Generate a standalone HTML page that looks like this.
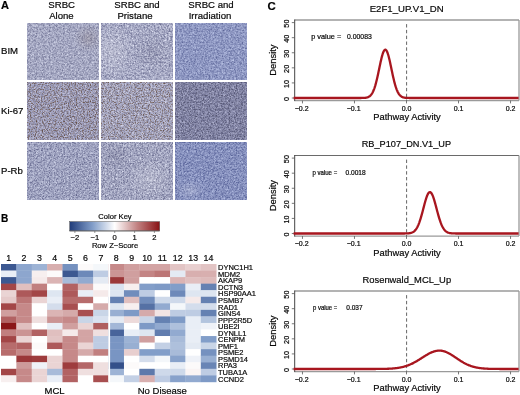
<!DOCTYPE html>
<html><head><meta charset="utf-8"><style>
html,body{margin:0;padding:0;background:#fff;}
svg{display:block;font-family:"Liberation Sans", sans-serif;will-change:transform;filter:blur(0.35px);}
svg text{stroke:#080808;stroke-width:0.2px;}
</style></head><body>
<svg width="520" height="395" viewBox="0 0 520 395">
<defs>
<linearGradient id="ck" x1="0" x2="1" y1="0" y2="0">
<stop offset="0.000" stop-color="#203c7a"/>
<stop offset="0.050" stop-color="#334f8a"/>
<stop offset="0.100" stop-color="#466299"/>
<stop offset="0.150" stop-color="#5a76a9"/>
<stop offset="0.200" stop-color="#6d89b8"/>
<stop offset="0.250" stop-color="#809cc8"/>
<stop offset="0.300" stop-color="#99b0d3"/>
<stop offset="0.350" stop-color="#b3c4de"/>
<stop offset="0.400" stop-color="#ccd7e9"/>
<stop offset="0.450" stop-color="#e6ebf4"/>
<stop offset="0.500" stop-color="#ffffff"/>
<stop offset="0.550" stop-color="#f3e6e6"/>
<stop offset="0.600" stop-color="#e7cdcd"/>
<stop offset="0.650" stop-color="#dab4b4"/>
<stop offset="0.700" stop-color="#ce9b9b"/>
<stop offset="0.750" stop-color="#c28282"/>
<stop offset="0.800" stop-color="#b66c6c"/>
<stop offset="0.850" stop-color="#ab5556"/>
<stop offset="0.900" stop-color="#9f3f40"/>
<stop offset="0.950" stop-color="#94282a"/>
<stop offset="1.000" stop-color="#881214"/>
</linearGradient>
</defs>
<text x="0.9" y="9.2" font-size="11" font-weight="bold" fill="#000">A</text>
<text x="61.7" y="7.9" font-size="9.6" text-anchor="middle" fill="#080808">SRBC</text>
<text x="61.4" y="18.9" font-size="9.6" text-anchor="middle" fill="#080808">Alone</text>
<text x="137.0" y="7.9" font-size="9.6" text-anchor="middle" fill="#080808">SRBC and</text>
<text x="135.0" y="18.9" font-size="9.6" text-anchor="middle" fill="#080808">Pristane</text>
<text x="211.0" y="7.9" font-size="9.6" text-anchor="middle" fill="#080808">SRBC and</text>
<text x="210.0" y="18.9" font-size="9.6" text-anchor="middle" fill="#080808">Irradiation</text>
<text x="1" y="54.2" font-size="9.6" fill="#080808">BIM</text>
<text x="1" y="113.8" font-size="9.6" fill="#080808">Ki-67</text>
<text x="1" y="173.5" font-size="9.6" fill="#080808">P-Rb</text>
<filter id="tx1" x="0" y="0" width="100%" height="100%" color-interpolation-filters="sRGB"><feTurbulence type="fractalNoise" baseFrequency="0.55" numOctaves="3" seed="18" result="n1"/><feGaussianBlur in="n1" stdDeviation="0.4" result="n1b"/><feColorMatrix in="n1b" type="matrix" values="0.450 0 0 0 0.438  0.450 0 0 0 0.450  0.380 0 0 0 0.586  0 0 0 0 1" result="bg"/><feTurbulence type="fractalNoise" baseFrequency="0.85" numOctaves="1" seed="9" result="n2"/><feColorMatrix in="n2" type="matrix" values="0 0 0 0 0.361  0 0 0 0 0.369  0 0 0 0 0.502  2.60 0 0 0 -1.391" result="dk"/><feGaussianBlur in="dk" stdDeviation="0.45" result="dkb"/><feMerge><feMergeNode in="bg"/><feMergeNode in="dkb"/></feMerge></filter>
<rect x="27" y="23.0" width="72" height="57.0" fill="#a9acc6" filter="url(#tx1)"/>
<filter id="tx2" x="0" y="0" width="100%" height="100%" color-interpolation-filters="sRGB"><feTurbulence type="fractalNoise" baseFrequency="0.55" numOctaves="3" seed="31" result="n1"/><feGaussianBlur in="n1" stdDeviation="0.4" result="n1b"/><feColorMatrix in="n1b" type="matrix" values="0.600 0 0 0 0.371  0.600 0 0 0 0.382  0.500 0 0 0 0.534  0 0 0 0 1" result="bg"/><feTurbulence type="fractalNoise" baseFrequency="0.85" numOctaves="1" seed="16" result="n2"/><feColorMatrix in="n2" type="matrix" values="0 0 0 0 0.361  0 0 0 0 0.369  0 0 0 0 0.510  2.60 0 0 0 -1.417" result="dk"/><feGaussianBlur in="dk" stdDeviation="0.45" result="dkb"/><feMerge><feMergeNode in="bg"/><feMergeNode in="dkb"/></feMerge></filter>
<rect x="101" y="23.0" width="72" height="57.0" fill="#abaec8" filter="url(#tx2)"/>
<filter id="tx3" x="0" y="0" width="100%" height="100%" color-interpolation-filters="sRGB"><feTurbulence type="fractalNoise" baseFrequency="0.55" numOctaves="3" seed="44" result="n1"/><feGaussianBlur in="n1" stdDeviation="0.4" result="n1b"/><feColorMatrix in="n1b" type="matrix" values="0.420 0 0 0 0.366  0.420 0 0 0 0.402  0.340 0 0 0 0.606  0 0 0 0 1" result="bg"/><feTurbulence type="fractalNoise" baseFrequency="0.85" numOctaves="1" seed="23" result="n2"/><feColorMatrix in="n2" type="matrix" values="0 0 0 0 0.290  0 0 0 0 0.329  0 0 0 0 0.533  2.60 0 0 0 -1.404" result="dk"/><feGaussianBlur in="dk" stdDeviation="0.45" result="dkb"/><feMerge><feMergeNode in="bg"/><feMergeNode in="dkb"/></feMerge></filter>
<rect x="175" y="23.0" width="72" height="57.0" fill="#939cc6" filter="url(#tx3)"/>
<filter id="tx4" x="0" y="0" width="100%" height="100%" color-interpolation-filters="sRGB"><feTurbulence type="fractalNoise" baseFrequency="0.55" numOctaves="3" seed="57" result="n1"/><feGaussianBlur in="n1" stdDeviation="0.4" result="n1b"/><feColorMatrix in="n1b" type="matrix" values="0.450 0 0 0 0.418  0.450 0 0 0 0.422  0.400 0 0 0 0.561  0 0 0 0 1" result="bg"/><feTurbulence type="fractalNoise" baseFrequency="0.85" numOctaves="1" seed="30" result="n2"/><feColorMatrix in="n2" type="matrix" values="0 0 0 0 0.361  0 0 0 0 0.259  0 0 0 0 0.196  2.80 0 0 0 -1.316" result="dk"/><feGaussianBlur in="dk" stdDeviation="0.45" result="dkb"/><feMerge><feMergeNode in="bg"/><feMergeNode in="dkb"/></feMerge></filter>
<rect x="27" y="82.8" width="72" height="57.2" fill="#a4a5c2" filter="url(#tx4)"/>
<filter id="tx5" x="0" y="0" width="100%" height="100%" color-interpolation-filters="sRGB"><feTurbulence type="fractalNoise" baseFrequency="0.55" numOctaves="3" seed="70" result="n1"/><feGaussianBlur in="n1" stdDeviation="0.4" result="n1b"/><feColorMatrix in="n1b" type="matrix" values="0.500 0 0 0 0.417  0.500 0 0 0 0.421  0.440 0 0 0 0.553  0 0 0 0 1" result="bg"/><feTurbulence type="fractalNoise" baseFrequency="0.85" numOctaves="1" seed="37" result="n2"/><feColorMatrix in="n2" type="matrix" values="0 0 0 0 0.369  0 0 0 0 0.267  0 0 0 0 0.204  2.70 0 0 0 -1.310" result="dk"/><feGaussianBlur in="dk" stdDeviation="0.45" result="dkb"/><feMerge><feMergeNode in="bg"/><feMergeNode in="dkb"/></feMerge></filter>
<rect x="101" y="82.8" width="72" height="57.2" fill="#aaabc5" filter="url(#tx5)"/>
<filter id="tx6" x="0" y="0" width="100%" height="100%" color-interpolation-filters="sRGB"><feTurbulence type="fractalNoise" baseFrequency="0.55" numOctaves="3" seed="83" result="n1"/><feGaussianBlur in="n1" stdDeviation="0.4" result="n1b"/><feColorMatrix in="n1b" type="matrix" values="0.450 0 0 0 0.312  0.450 0 0 0 0.320  0.420 0 0 0 0.461  0 0 0 0 1" result="bg"/><feTurbulence type="fractalNoise" baseFrequency="0.85" numOctaves="1" seed="44" result="n2"/><feColorMatrix in="n2" type="matrix" values="0 0 0 0 0.235  0 0 0 0 0.235  0 0 0 0 0.337  2.40 0 0 0 -1.176" result="dk"/><feGaussianBlur in="dk" stdDeviation="0.45" result="dkb"/><feMerge><feMergeNode in="bg"/><feMergeNode in="dkb"/></feMerge></filter>
<rect x="175" y="82.8" width="72" height="57.2" fill="#898bab" filter="url(#tx6)"/>
<filter id="tx7" x="0" y="0" width="100%" height="100%" color-interpolation-filters="sRGB"><feTurbulence type="fractalNoise" baseFrequency="0.55" numOctaves="3" seed="96" result="n1"/><feGaussianBlur in="n1" stdDeviation="0.4" result="n1b"/><feColorMatrix in="n1b" type="matrix" values="0.450 0 0 0 0.426  0.450 0 0 0 0.442  0.380 0 0 0 0.586  0 0 0 0 1" result="bg"/><feTurbulence type="fractalNoise" baseFrequency="0.85" numOctaves="1" seed="51" result="n2"/><feColorMatrix in="n2" type="matrix" values="0 0 0 0 0.314  0 0 0 0 0.322  0 0 0 0 0.486  2.70 0 0 0 -1.377" result="dk"/><feGaussianBlur in="dk" stdDeviation="0.45" result="dkb"/><feMerge><feMergeNode in="bg"/><feMergeNode in="dkb"/></feMerge></filter>
<rect x="27" y="142.6" width="72" height="57.2" fill="#a6aac6" filter="url(#tx7)"/>
<filter id="tx8" x="0" y="0" width="100%" height="100%" color-interpolation-filters="sRGB"><feTurbulence type="fractalNoise" baseFrequency="0.55" numOctaves="3" seed="109" result="n1"/><feGaussianBlur in="n1" stdDeviation="0.4" result="n1b"/><feColorMatrix in="n1b" type="matrix" values="0.550 0 0 0 0.388  0.550 0 0 0 0.400  0.460 0 0 0 0.546  0 0 0 0 1" result="bg"/><feTurbulence type="fractalNoise" baseFrequency="0.85" numOctaves="1" seed="58" result="n2"/><feColorMatrix in="n2" type="matrix" values="0 0 0 0 0.322  0 0 0 0 0.329  0 0 0 0 0.478  2.70 0 0 0 -1.404" result="dk"/><feGaussianBlur in="dk" stdDeviation="0.45" result="dkb"/><feMerge><feMergeNode in="bg"/><feMergeNode in="dkb"/></feMerge></filter>
<rect x="101" y="142.6" width="72" height="57.2" fill="#a9acc6" filter="url(#tx8)"/>
<filter id="tx9" x="0" y="0" width="100%" height="100%" color-interpolation-filters="sRGB"><feTurbulence type="fractalNoise" baseFrequency="0.55" numOctaves="3" seed="122" result="n1"/><feGaussianBlur in="n1" stdDeviation="0.4" result="n1b"/><feColorMatrix in="n1b" type="matrix" values="0.420 0 0 0 0.339  0.420 0 0 0 0.378  0.340 0 0 0 0.591  0 0 0 0 1" result="bg"/><feTurbulence type="fractalNoise" baseFrequency="0.85" numOctaves="1" seed="65" result="n2"/><feColorMatrix in="n2" type="matrix" values="0 0 0 0 0.259  0 0 0 0 0.306  0 0 0 0 0.533  2.70 0 0 0 -1.404" result="dk"/><feGaussianBlur in="dk" stdDeviation="0.45" result="dkb"/><feMerge><feMergeNode in="bg"/><feMergeNode in="dkb"/></feMerge></filter>
<rect x="175" y="142.6" width="72" height="57.2" fill="#8c96c2" filter="url(#tx9)"/>
<defs><radialGradient id="rgw"><stop offset="0" stop-color="#fff" stop-opacity="0.22"/><stop offset="1" stop-color="#fff" stop-opacity="0"/></radialGradient><radialGradient id="rgd"><stop offset="0" stop-color="#303050" stop-opacity="0.12"/><stop offset="1" stop-color="#303050" stop-opacity="0"/></radialGradient><radialGradient id="rgb"><stop offset="0" stop-color="#6a5040" stop-opacity="0.18"/><stop offset="1" stop-color="#6a5040" stop-opacity="0"/></radialGradient><clipPath id="cpA"><rect x="27" y="23" width="220" height="177"/></clipPath></defs>
<g clip-path="url(#cpA)">
<ellipse cx="113" cy="52" rx="20" ry="28" fill="url(#rgw)"/>
<ellipse cx="152" cy="52" rx="18" ry="18" fill="url(#rgd)"/>
<ellipse cx="88" cy="38" rx="14" ry="14" fill="url(#rgb)"/>
<ellipse cx="150" cy="178" rx="22" ry="20" fill="url(#rgw)"/>
<ellipse cx="116" cy="156" rx="16" ry="14" fill="url(#rgd)"/>
<ellipse cx="190" cy="190" rx="14" ry="10" fill="url(#rgw)"/>
</g>
<text x="0.9" y="222" font-size="11.6" font-weight="bold" textLength="7.3" lengthAdjust="spacingAndGlyphs" fill="#000">B</text>
<text x="115" y="219.2" font-size="7.6" text-anchor="middle" fill="#080808">Color Key</text>
<rect x="69.7" y="221.6" width="90" height="9.3" fill="url(#ck)" stroke="#555" stroke-width="0.5"/>
<line x1="69.7" y1="231" x2="159.7" y2="231" stroke="#555" stroke-width="0.7"/>
<line x1="74.9" y1="231" x2="74.9" y2="233" stroke="#555" stroke-width="0.6"/>
<text x="74.9" y="240.4" font-size="7.6" text-anchor="middle" fill="#080808">−2</text>
<line x1="94.8" y1="231" x2="94.8" y2="233" stroke="#555" stroke-width="0.6"/>
<text x="94.8" y="240.4" font-size="7.6" text-anchor="middle" fill="#080808">−1</text>
<line x1="114.7" y1="231" x2="114.7" y2="233" stroke="#555" stroke-width="0.6"/>
<text x="114.7" y="240.4" font-size="7.6" text-anchor="middle" fill="#080808">0</text>
<line x1="134.6" y1="231" x2="134.6" y2="233" stroke="#555" stroke-width="0.6"/>
<text x="134.6" y="240.4" font-size="7.6" text-anchor="middle" fill="#080808">1</text>
<line x1="154.4" y1="231" x2="154.4" y2="233" stroke="#555" stroke-width="0.6"/>
<text x="154.4" y="240.4" font-size="7.6" text-anchor="middle" fill="#080808">2</text>
<text x="115" y="247.8" font-size="7.6" text-anchor="middle" fill="#080808">Row Z−Score</text>
<text x="8.69" y="261" font-size="8.8" text-anchor="middle" fill="#080808">1</text>
<rect x="1.00" y="264.00" width="15.67" height="6.85" fill="#3c5891"/>
<rect x="1.00" y="270.55" width="15.67" height="6.85" fill="#e9eef6"/>
<rect x="1.00" y="277.10" width="15.67" height="6.85" fill="#3c5891"/>
<rect x="1.00" y="283.65" width="15.67" height="6.85" fill="#a34647"/>
<rect x="1.00" y="290.20" width="15.67" height="6.85" fill="#ead4d4"/>
<rect x="1.00" y="296.75" width="15.67" height="6.85" fill="#e5caca"/>
<rect x="1.00" y="303.30" width="15.67" height="6.85" fill="#a34647"/>
<rect x="1.00" y="309.85" width="15.67" height="6.85" fill="#d09f9f"/>
<rect x="1.00" y="316.40" width="15.67" height="6.85" fill="#b26263"/>
<rect x="1.00" y="322.95" width="15.67" height="6.85" fill="#8a1618"/>
<rect x="1.00" y="329.50" width="15.67" height="6.85" fill="#c17f7f"/>
<rect x="1.00" y="336.05" width="15.67" height="6.85" fill="#a34647"/>
<rect x="1.00" y="342.60" width="15.67" height="6.85" fill="#b76c6c"/>
<rect x="1.00" y="349.15" width="15.67" height="6.85" fill="#b76c6c"/>
<rect x="1.00" y="355.70" width="15.67" height="6.85" fill="#ffffff"/>
<rect x="1.00" y="362.25" width="15.67" height="6.85" fill="#ffffff"/>
<rect x="1.00" y="368.80" width="15.67" height="6.85" fill="#a34647"/>
<rect x="1.00" y="375.35" width="15.67" height="6.85" fill="#f7efef"/>
<text x="24.06" y="261" font-size="8.8" text-anchor="middle" fill="#080808">2</text>
<rect x="16.37" y="264.00" width="15.67" height="6.85" fill="#8da6ce"/>
<rect x="16.37" y="270.55" width="15.67" height="6.85" fill="#8da6ce"/>
<rect x="16.37" y="277.10" width="15.67" height="6.85" fill="#8da6ce"/>
<rect x="16.37" y="283.65" width="15.67" height="6.85" fill="#e0bfbf"/>
<rect x="16.37" y="290.20" width="15.67" height="6.85" fill="#ad595a"/>
<rect x="16.37" y="296.75" width="15.67" height="6.85" fill="#bc7676"/>
<rect x="16.37" y="303.30" width="15.67" height="6.85" fill="#c68989"/>
<rect x="16.37" y="309.85" width="15.67" height="6.85" fill="#c68989"/>
<rect x="16.37" y="316.40" width="15.67" height="6.85" fill="#c68989"/>
<rect x="16.37" y="322.95" width="15.67" height="6.85" fill="#e0bfbf"/>
<rect x="16.37" y="329.50" width="15.67" height="6.85" fill="#cb9494"/>
<rect x="16.37" y="336.05" width="15.67" height="6.85" fill="#ead4d4"/>
<rect x="16.37" y="342.60" width="15.67" height="6.85" fill="#b26263"/>
<rect x="16.37" y="349.15" width="15.67" height="6.85" fill="#c68989"/>
<rect x="16.37" y="355.70" width="15.67" height="6.85" fill="#9b3739"/>
<rect x="16.37" y="362.25" width="15.67" height="6.85" fill="#cd9a9a"/>
<rect x="16.37" y="368.80" width="15.67" height="6.85" fill="#c68989"/>
<rect x="16.37" y="375.35" width="15.67" height="6.85" fill="#c68989"/>
<text x="39.43" y="261" font-size="8.8" text-anchor="middle" fill="#080808">3</text>
<rect x="31.74" y="264.00" width="15.67" height="6.85" fill="#9db3d5"/>
<rect x="31.74" y="270.55" width="15.67" height="6.85" fill="#f7efef"/>
<rect x="31.74" y="277.10" width="15.67" height="6.85" fill="#f5eaea"/>
<rect x="31.74" y="283.65" width="15.67" height="6.85" fill="#c17f7f"/>
<rect x="31.74" y="290.20" width="15.67" height="6.85" fill="#a34647"/>
<rect x="31.74" y="296.75" width="15.67" height="6.85" fill="#ead4d4"/>
<rect x="31.74" y="303.30" width="15.67" height="6.85" fill="#ffffff"/>
<rect x="31.74" y="309.85" width="15.67" height="6.85" fill="#ffffff"/>
<rect x="31.74" y="316.40" width="15.67" height="6.85" fill="#efdfdf"/>
<rect x="31.74" y="322.95" width="15.67" height="6.85" fill="#ffffff"/>
<rect x="31.74" y="329.50" width="15.67" height="6.85" fill="#b26263"/>
<rect x="31.74" y="336.05" width="15.67" height="6.85" fill="#ffffff"/>
<rect x="31.74" y="342.60" width="15.67" height="6.85" fill="#fcfafa"/>
<rect x="31.74" y="349.15" width="15.67" height="6.85" fill="#ffffff"/>
<rect x="31.74" y="355.70" width="15.67" height="6.85" fill="#9e3c3d"/>
<rect x="31.74" y="362.25" width="15.67" height="6.85" fill="#eff2f8"/>
<rect x="31.74" y="368.80" width="15.67" height="6.85" fill="#ead4d4"/>
<rect x="31.74" y="375.35" width="15.67" height="6.85" fill="#ead4d4"/>
<text x="54.80" y="261" font-size="8.8" text-anchor="middle" fill="#080808">4</text>
<rect x="47.11" y="264.00" width="15.67" height="6.85" fill="#d8afaf"/>
<rect x="47.11" y="270.55" width="15.67" height="6.85" fill="#fcfafa"/>
<rect x="47.11" y="277.10" width="15.67" height="6.85" fill="#dbb4b4"/>
<rect x="47.11" y="283.65" width="15.67" height="6.85" fill="#ffffff"/>
<rect x="47.11" y="290.20" width="15.67" height="6.85" fill="#dee6f1"/>
<rect x="47.11" y="296.75" width="15.67" height="6.85" fill="#e9eef6"/>
<rect x="47.11" y="303.30" width="15.67" height="6.85" fill="#d4ddec"/>
<rect x="47.11" y="309.85" width="15.67" height="6.85" fill="#dbb4b4"/>
<rect x="47.11" y="316.40" width="15.67" height="6.85" fill="#cb9494"/>
<rect x="47.11" y="322.95" width="15.67" height="6.85" fill="#e9eef6"/>
<rect x="47.11" y="329.50" width="15.67" height="6.85" fill="#e0bfbf"/>
<rect x="47.11" y="336.05" width="15.67" height="6.85" fill="#e2c4c4"/>
<rect x="47.11" y="342.60" width="15.67" height="6.85" fill="#ad595a"/>
<rect x="47.11" y="349.15" width="15.67" height="6.85" fill="#ffffff"/>
<rect x="47.11" y="355.70" width="15.67" height="6.85" fill="#ead4d4"/>
<rect x="47.11" y="362.25" width="15.67" height="6.85" fill="#ead4d4"/>
<rect x="47.11" y="368.80" width="15.67" height="6.85" fill="#a8bbd9"/>
<rect x="47.11" y="375.35" width="15.67" height="6.85" fill="#e9eef6"/>
<text x="70.17" y="261" font-size="8.8" text-anchor="middle" fill="#080808">5</text>
<rect x="62.49" y="264.00" width="15.67" height="6.85" fill="#7591bf"/>
<rect x="62.49" y="270.55" width="15.67" height="6.85" fill="#3c5891"/>
<rect x="62.49" y="277.10" width="15.67" height="6.85" fill="#a8bbd9"/>
<rect x="62.49" y="283.65" width="15.67" height="6.85" fill="#b26263"/>
<rect x="62.49" y="290.20" width="15.67" height="6.85" fill="#ad595a"/>
<rect x="62.49" y="296.75" width="15.67" height="6.85" fill="#b76c6c"/>
<rect x="62.49" y="303.30" width="15.67" height="6.85" fill="#a84f50"/>
<rect x="62.49" y="309.85" width="15.67" height="6.85" fill="#d5aaaa"/>
<rect x="62.49" y="316.40" width="15.67" height="6.85" fill="#c68989"/>
<rect x="62.49" y="322.95" width="15.67" height="6.85" fill="#d09f9f"/>
<rect x="62.49" y="329.50" width="15.67" height="6.85" fill="#f5eaea"/>
<rect x="62.49" y="336.05" width="15.67" height="6.85" fill="#c68989"/>
<rect x="62.49" y="342.60" width="15.67" height="6.85" fill="#c68989"/>
<rect x="62.49" y="349.15" width="15.67" height="6.85" fill="#c68989"/>
<rect x="62.49" y="355.70" width="15.67" height="6.85" fill="#c68989"/>
<rect x="62.49" y="362.25" width="15.67" height="6.85" fill="#9e3c3d"/>
<rect x="62.49" y="368.80" width="15.67" height="6.85" fill="#b26263"/>
<rect x="62.49" y="375.35" width="15.67" height="6.85" fill="#b26263"/>
<text x="85.54" y="261" font-size="8.8" text-anchor="middle" fill="#080808">6</text>
<rect x="77.86" y="264.00" width="15.67" height="6.85" fill="#fcfafa"/>
<rect x="77.86" y="270.55" width="15.67" height="6.85" fill="#6d89b9"/>
<rect x="77.86" y="277.10" width="15.67" height="6.85" fill="#92aad0"/>
<rect x="77.86" y="283.65" width="15.67" height="6.85" fill="#dbb4b4"/>
<rect x="77.86" y="290.20" width="15.67" height="6.85" fill="#e9eef6"/>
<rect x="77.86" y="296.75" width="15.67" height="6.85" fill="#b76c6c"/>
<rect x="77.86" y="303.30" width="15.67" height="6.85" fill="#ffffff"/>
<rect x="77.86" y="309.85" width="15.67" height="6.85" fill="#a84f50"/>
<rect x="77.86" y="316.40" width="15.67" height="6.85" fill="#c9d5e7"/>
<rect x="77.86" y="322.95" width="15.67" height="6.85" fill="#ead4d4"/>
<rect x="77.86" y="329.50" width="15.67" height="6.85" fill="#d3a4a4"/>
<rect x="77.86" y="336.05" width="15.67" height="6.85" fill="#d3a4a4"/>
<rect x="77.86" y="342.60" width="15.67" height="6.85" fill="#ead4d4"/>
<rect x="77.86" y="349.15" width="15.67" height="6.85" fill="#d5aaaa"/>
<rect x="77.86" y="355.70" width="15.67" height="6.85" fill="#ffffff"/>
<rect x="77.86" y="362.25" width="15.67" height="6.85" fill="#b46768"/>
<rect x="77.86" y="368.80" width="15.67" height="6.85" fill="#efdfdf"/>
<rect x="77.86" y="375.35" width="15.67" height="6.85" fill="#ffffff"/>
<text x="100.91" y="261" font-size="8.8" text-anchor="middle" fill="#080808">7</text>
<rect x="93.23" y="264.00" width="15.67" height="6.85" fill="#f4f7fa"/>
<rect x="93.23" y="270.55" width="15.67" height="6.85" fill="#becce3"/>
<rect x="93.23" y="277.10" width="15.67" height="6.85" fill="#e4eaf3"/>
<rect x="93.23" y="283.65" width="15.67" height="6.85" fill="#fcfafa"/>
<rect x="93.23" y="290.20" width="15.67" height="6.85" fill="#f5eaea"/>
<rect x="93.23" y="296.75" width="15.67" height="6.85" fill="#ffffff"/>
<rect x="93.23" y="303.30" width="15.67" height="6.85" fill="#d5aaaa"/>
<rect x="93.23" y="309.85" width="15.67" height="6.85" fill="#c9d5e7"/>
<rect x="93.23" y="316.40" width="15.67" height="6.85" fill="#d9e1ef"/>
<rect x="93.23" y="322.95" width="15.67" height="6.85" fill="#af5e5e"/>
<rect x="93.23" y="329.50" width="15.67" height="6.85" fill="#efdfdf"/>
<rect x="93.23" y="336.05" width="15.67" height="6.85" fill="#becce3"/>
<rect x="93.23" y="342.60" width="15.67" height="6.85" fill="#becce3"/>
<rect x="93.23" y="349.15" width="15.67" height="6.85" fill="#c17f7f"/>
<rect x="93.23" y="355.70" width="15.67" height="6.85" fill="#ffffff"/>
<rect x="93.23" y="362.25" width="15.67" height="6.85" fill="#efdfdf"/>
<rect x="93.23" y="368.80" width="15.67" height="6.85" fill="#efdfdf"/>
<rect x="93.23" y="375.35" width="15.67" height="6.85" fill="#a84f50"/>
<text x="116.29" y="261" font-size="8.8" text-anchor="middle" fill="#080808">8</text>
<rect x="108.60" y="264.00" width="15.67" height="6.85" fill="#c68989"/>
<rect x="108.60" y="270.55" width="15.67" height="6.85" fill="#cb9494"/>
<rect x="108.60" y="277.10" width="15.67" height="6.85" fill="#9b3739"/>
<rect x="108.60" y="283.65" width="15.67" height="6.85" fill="#d9e1ef"/>
<rect x="108.60" y="290.20" width="15.67" height="6.85" fill="#dee6f1"/>
<rect x="108.60" y="296.75" width="15.67" height="6.85" fill="#6581b2"/>
<rect x="108.60" y="303.30" width="15.67" height="6.85" fill="#dee6f1"/>
<rect x="108.60" y="309.85" width="15.67" height="6.85" fill="#98afd2"/>
<rect x="108.60" y="316.40" width="15.67" height="6.85" fill="#e4eaf3"/>
<rect x="108.60" y="322.95" width="15.67" height="6.85" fill="#a3b7d7"/>
<rect x="108.60" y="329.50" width="15.67" height="6.85" fill="#48649b"/>
<rect x="108.60" y="336.05" width="15.67" height="6.85" fill="#7995c3"/>
<rect x="108.60" y="342.60" width="15.67" height="6.85" fill="#7995c3"/>
<rect x="108.60" y="349.15" width="15.67" height="6.85" fill="#7995c3"/>
<rect x="108.60" y="355.70" width="15.67" height="6.85" fill="#7995c3"/>
<rect x="108.60" y="362.25" width="15.67" height="6.85" fill="#34508a"/>
<rect x="108.60" y="368.80" width="15.67" height="6.85" fill="#9db3d5"/>
<rect x="108.60" y="375.35" width="15.67" height="6.85" fill="#f4f7fa"/>
<text x="131.66" y="261" font-size="8.8" text-anchor="middle" fill="#080808">9</text>
<rect x="123.97" y="264.00" width="15.67" height="6.85" fill="#d09f9f"/>
<rect x="123.97" y="270.55" width="15.67" height="6.85" fill="#d09f9f"/>
<rect x="123.97" y="277.10" width="15.67" height="6.85" fill="#d09f9f"/>
<rect x="123.97" y="283.65" width="15.67" height="6.85" fill="#f7efef"/>
<rect x="123.97" y="290.20" width="15.67" height="6.85" fill="#718dbc"/>
<rect x="123.97" y="296.75" width="15.67" height="6.85" fill="#e0bfbf"/>
<rect x="123.97" y="303.30" width="15.67" height="6.85" fill="#f7efef"/>
<rect x="123.97" y="309.85" width="15.67" height="6.85" fill="#7e9ac6"/>
<rect x="123.97" y="316.40" width="15.67" height="6.85" fill="#eddada"/>
<rect x="123.97" y="322.95" width="15.67" height="6.85" fill="#ffffff"/>
<rect x="123.97" y="329.50" width="15.67" height="6.85" fill="#e9eef6"/>
<rect x="123.97" y="336.05" width="15.67" height="6.85" fill="#9db3d5"/>
<rect x="123.97" y="342.60" width="15.67" height="6.85" fill="#98afd2"/>
<rect x="123.97" y="349.15" width="15.67" height="6.85" fill="#e8cfcf"/>
<rect x="123.97" y="355.70" width="15.67" height="6.85" fill="#ffffff"/>
<rect x="123.97" y="362.25" width="15.67" height="6.85" fill="#fcfafa"/>
<rect x="123.97" y="368.80" width="15.67" height="6.85" fill="#ffffff"/>
<rect x="123.97" y="375.35" width="15.67" height="6.85" fill="#c3d0e5"/>
<text x="147.03" y="261" font-size="8.8" text-anchor="middle" fill="#080808">10</text>
<rect x="139.34" y="264.00" width="15.67" height="6.85" fill="#d3a4a4"/>
<rect x="139.34" y="270.55" width="15.67" height="6.85" fill="#c38484"/>
<rect x="139.34" y="277.10" width="15.67" height="6.85" fill="#ffffff"/>
<rect x="139.34" y="283.65" width="15.67" height="6.85" fill="#829ec9"/>
<rect x="139.34" y="290.20" width="15.67" height="6.85" fill="#becce3"/>
<rect x="139.34" y="296.75" width="15.67" height="6.85" fill="#718dbc"/>
<rect x="139.34" y="303.30" width="15.67" height="6.85" fill="#5571a5"/>
<rect x="139.34" y="309.85" width="15.67" height="6.85" fill="#d5aaaa"/>
<rect x="139.34" y="316.40" width="15.67" height="6.85" fill="#c9d5e7"/>
<rect x="139.34" y="322.95" width="15.67" height="6.85" fill="#7e9ac6"/>
<rect x="139.34" y="329.50" width="15.67" height="6.85" fill="#dee6f1"/>
<rect x="139.34" y="336.05" width="15.67" height="6.85" fill="#d09f9f"/>
<rect x="139.34" y="342.60" width="15.67" height="6.85" fill="#ffffff"/>
<rect x="139.34" y="349.15" width="15.67" height="6.85" fill="#829ec9"/>
<rect x="139.34" y="355.70" width="15.67" height="6.85" fill="#d4ddec"/>
<rect x="139.34" y="362.25" width="15.67" height="6.85" fill="#ffffff"/>
<rect x="139.34" y="368.80" width="15.67" height="6.85" fill="#5d79ab"/>
<rect x="139.34" y="375.35" width="15.67" height="6.85" fill="#d8afaf"/>
<text x="162.40" y="261" font-size="8.8" text-anchor="middle" fill="#080808">11</text>
<rect x="154.71" y="264.00" width="15.67" height="6.85" fill="#d3a4a4"/>
<rect x="154.71" y="270.55" width="15.67" height="6.85" fill="#bc7676"/>
<rect x="154.71" y="277.10" width="15.67" height="6.85" fill="#ffffff"/>
<rect x="154.71" y="283.65" width="15.67" height="6.85" fill="#7e9ac6"/>
<rect x="154.71" y="290.20" width="15.67" height="6.85" fill="#ffffff"/>
<rect x="154.71" y="296.75" width="15.67" height="6.85" fill="#ced9ea"/>
<rect x="154.71" y="303.30" width="15.67" height="6.85" fill="#92aad0"/>
<rect x="154.71" y="309.85" width="15.67" height="6.85" fill="#f2e4e4"/>
<rect x="154.71" y="316.40" width="15.67" height="6.85" fill="#6581b2"/>
<rect x="154.71" y="322.95" width="15.67" height="6.85" fill="#92aad0"/>
<rect x="154.71" y="329.50" width="15.67" height="6.85" fill="#617daf"/>
<rect x="154.71" y="336.05" width="15.67" height="6.85" fill="#ffffff"/>
<rect x="154.71" y="342.60" width="15.67" height="6.85" fill="#c3d0e5"/>
<rect x="154.71" y="349.15" width="15.67" height="6.85" fill="#829ec9"/>
<rect x="154.71" y="355.70" width="15.67" height="6.85" fill="#f4f7fa"/>
<rect x="154.71" y="362.25" width="15.67" height="6.85" fill="#ffffff"/>
<rect x="154.71" y="368.80" width="15.67" height="6.85" fill="#ced9ea"/>
<rect x="154.71" y="375.35" width="15.67" height="6.85" fill="#becce3"/>
<text x="177.77" y="261" font-size="8.8" text-anchor="middle" fill="#080808">12</text>
<rect x="170.09" y="264.00" width="15.67" height="6.85" fill="#e2c4c4"/>
<rect x="170.09" y="270.55" width="15.67" height="6.85" fill="#e4eaf3"/>
<rect x="170.09" y="277.10" width="15.67" height="6.85" fill="#dbb4b4"/>
<rect x="170.09" y="283.65" width="15.67" height="6.85" fill="#829ec9"/>
<rect x="170.09" y="290.20" width="15.67" height="6.85" fill="#6d89b9"/>
<rect x="170.09" y="296.75" width="15.67" height="6.85" fill="#ced9ea"/>
<rect x="170.09" y="303.30" width="15.67" height="6.85" fill="#f4f7fa"/>
<rect x="170.09" y="309.85" width="15.67" height="6.85" fill="#becce3"/>
<rect x="170.09" y="316.40" width="15.67" height="6.85" fill="#7e9ac6"/>
<rect x="170.09" y="322.95" width="15.67" height="6.85" fill="#aec0dc"/>
<rect x="170.09" y="329.50" width="15.67" height="6.85" fill="#92aad0"/>
<rect x="170.09" y="336.05" width="15.67" height="6.85" fill="#a8bbd9"/>
<rect x="170.09" y="342.60" width="15.67" height="6.85" fill="#aec0dc"/>
<rect x="170.09" y="349.15" width="15.67" height="6.85" fill="#a8bbd9"/>
<rect x="170.09" y="355.70" width="15.67" height="6.85" fill="#88a2cb"/>
<rect x="170.09" y="362.25" width="15.67" height="6.85" fill="#e9eef6"/>
<rect x="170.09" y="368.80" width="15.67" height="6.85" fill="#ced9ea"/>
<rect x="170.09" y="375.35" width="15.67" height="6.85" fill="#88a2cb"/>
<text x="193.14" y="261" font-size="8.8" text-anchor="middle" fill="#080808">13</text>
<rect x="185.46" y="264.00" width="15.67" height="6.85" fill="#e8cfcf"/>
<rect x="185.46" y="270.55" width="15.67" height="6.85" fill="#d8afaf"/>
<rect x="185.46" y="277.10" width="15.67" height="6.85" fill="#e0bfbf"/>
<rect x="185.46" y="283.65" width="15.67" height="6.85" fill="#e9eef6"/>
<rect x="185.46" y="290.20" width="15.67" height="6.85" fill="#dee6f1"/>
<rect x="185.46" y="296.75" width="15.67" height="6.85" fill="#f5eaea"/>
<rect x="185.46" y="303.30" width="15.67" height="6.85" fill="#d4ddec"/>
<rect x="185.46" y="309.85" width="15.67" height="6.85" fill="#becce3"/>
<rect x="185.46" y="316.40" width="15.67" height="6.85" fill="#e9eef6"/>
<rect x="185.46" y="322.95" width="15.67" height="6.85" fill="#e9eef6"/>
<rect x="185.46" y="329.50" width="15.67" height="6.85" fill="#e9eef6"/>
<rect x="185.46" y="336.05" width="15.67" height="6.85" fill="#e9eef6"/>
<rect x="185.46" y="342.60" width="15.67" height="6.85" fill="#e4eaf3"/>
<rect x="185.46" y="349.15" width="15.67" height="6.85" fill="#ffffff"/>
<rect x="185.46" y="355.70" width="15.67" height="6.85" fill="#eff2f8"/>
<rect x="185.46" y="362.25" width="15.67" height="6.85" fill="#fcfafa"/>
<rect x="185.46" y="368.80" width="15.67" height="6.85" fill="#faf4f4"/>
<rect x="185.46" y="375.35" width="15.67" height="6.85" fill="#92aad0"/>
<text x="208.51" y="261" font-size="8.8" text-anchor="middle" fill="#080808">14</text>
<rect x="200.83" y="264.00" width="15.67" height="6.85" fill="#e2c4c4"/>
<rect x="200.83" y="270.55" width="15.67" height="6.85" fill="#d8afaf"/>
<rect x="200.83" y="277.10" width="15.67" height="6.85" fill="#ddbaba"/>
<rect x="200.83" y="283.65" width="15.67" height="6.85" fill="#6581b2"/>
<rect x="200.83" y="290.20" width="15.67" height="6.85" fill="#dee6f1"/>
<rect x="200.83" y="296.75" width="15.67" height="6.85" fill="#6581b2"/>
<rect x="200.83" y="303.30" width="15.67" height="6.85" fill="#d4ddec"/>
<rect x="200.83" y="309.85" width="15.67" height="6.85" fill="#6581b2"/>
<rect x="200.83" y="316.40" width="15.67" height="6.85" fill="#b3c4de"/>
<rect x="200.83" y="322.95" width="15.67" height="6.85" fill="#eff2f8"/>
<rect x="200.83" y="329.50" width="15.67" height="6.85" fill="#ffffff"/>
<rect x="200.83" y="336.05" width="15.67" height="6.85" fill="#829ec9"/>
<rect x="200.83" y="342.60" width="15.67" height="6.85" fill="#c9d5e7"/>
<rect x="200.83" y="349.15" width="15.67" height="6.85" fill="#7591bf"/>
<rect x="200.83" y="355.70" width="15.67" height="6.85" fill="#98afd2"/>
<rect x="200.83" y="362.25" width="15.67" height="6.85" fill="#6985b5"/>
<rect x="200.83" y="368.80" width="15.67" height="6.85" fill="#becce3"/>
<rect x="200.83" y="375.35" width="15.67" height="6.85" fill="#7e9ac6"/>
<rect x="108.3" y="264.0" width="1.8" height="117.9" fill="#fff"/>
<text x="218" y="270.20" font-size="7.5" fill="#080808">DYNC1H1</text>
<text x="218" y="276.75" font-size="7.5" fill="#080808">MDM2</text>
<text x="218" y="283.30" font-size="7.5" fill="#080808">AKAP9</text>
<text x="218" y="289.85" font-size="7.5" fill="#080808">DCTN3</text>
<text x="218" y="296.40" font-size="7.5" fill="#080808">HSP90AA1</text>
<text x="218" y="302.95" font-size="7.5" fill="#080808">PSMB7</text>
<text x="218" y="309.50" font-size="7.5" fill="#080808">RAD1</text>
<text x="218" y="316.05" font-size="7.5" fill="#080808">GINS4</text>
<text x="218" y="322.60" font-size="7.5" fill="#080808">PPP2R5D</text>
<text x="218" y="329.15" font-size="7.5" fill="#080808">UBE2I</text>
<text x="218" y="335.70" font-size="7.5" fill="#080808">DYNLL1</text>
<text x="218" y="342.25" font-size="7.5" fill="#080808">CENPM</text>
<text x="218" y="348.80" font-size="7.5" fill="#080808">PMF1</text>
<text x="218" y="355.35" font-size="7.5" fill="#080808">PSME2</text>
<text x="218" y="361.90" font-size="7.5" fill="#080808">PSMD14</text>
<text x="218" y="368.45" font-size="7.5" fill="#080808">RPA3</text>
<text x="218" y="375.00" font-size="7.5" fill="#080808">TUBA1A</text>
<text x="218" y="381.55" font-size="7.5" fill="#080808">CCND2</text>
<text x="54.5" y="394" font-size="9.5" text-anchor="middle" fill="#080808">MCL</text>
<text x="162.3" y="394" font-size="9.5" text-anchor="middle" fill="#080808">No Disease</text>
<text x="267.6" y="9.5" font-size="11.4" font-weight="bold" fill="#000">C</text>
<text x="406.7" y="11.8" font-size="9.8" text-anchor="middle" textLength="74.0" lengthAdjust="spacingAndGlyphs" fill="#080808">E2F1_UP.V1_DN</text>
<line x1="294.6" y1="20.00" x2="519" y2="20.00" stroke="#9a9a9a" stroke-width="1.4"/>
<line x1="519" y1="20.00" x2="519" y2="100.60" stroke="#9a9a9a" stroke-width="1.3"/>
<line x1="294.6" y1="100.60" x2="519" y2="100.60" stroke="#9a9a9a" stroke-width="1.2"/>
<line x1="294.7" y1="19.50" x2="294.7" y2="101.10" stroke="#444" stroke-width="1"/>
<line x1="291.8" y1="98.00" x2="294.6" y2="98.00" stroke="#555" stroke-width="0.8"/>
<text transform="translate(289.2 99.00) rotate(-90)" font-size="7.3" text-anchor="middle" fill="#080808">0</text>
<line x1="291.8" y1="82.92" x2="294.6" y2="82.92" stroke="#555" stroke-width="0.8"/>
<text transform="translate(289.2 83.92) rotate(-90)" font-size="7.3" text-anchor="middle" fill="#080808">10</text>
<line x1="291.8" y1="67.84" x2="294.6" y2="67.84" stroke="#555" stroke-width="0.8"/>
<text transform="translate(289.2 68.84) rotate(-90)" font-size="7.3" text-anchor="middle" fill="#080808">20</text>
<line x1="291.8" y1="52.76" x2="294.6" y2="52.76" stroke="#555" stroke-width="0.8"/>
<text transform="translate(289.2 53.76) rotate(-90)" font-size="7.3" text-anchor="middle" fill="#080808">30</text>
<line x1="291.8" y1="37.68" x2="294.6" y2="37.68" stroke="#555" stroke-width="0.8"/>
<text transform="translate(289.2 38.68) rotate(-90)" font-size="7.3" text-anchor="middle" fill="#080808">40</text>
<line x1="291.8" y1="22.60" x2="294.6" y2="22.60" stroke="#555" stroke-width="0.8"/>
<text transform="translate(289.2 23.60) rotate(-90)" font-size="7.3" text-anchor="middle" fill="#080808">50</text>
<line x1="302.46" y1="100.6" x2="302.46" y2="103.4" stroke="#555" stroke-width="0.8"/>
<text x="301.66" y="110.5" font-size="7" text-anchor="middle" fill="#080808">−0.2</text>
<line x1="354.48" y1="100.6" x2="354.48" y2="103.4" stroke="#555" stroke-width="0.8"/>
<text x="353.68" y="110.5" font-size="7" text-anchor="middle" fill="#080808">−0.1</text>
<line x1="406.50" y1="100.6" x2="406.50" y2="103.4" stroke="#555" stroke-width="0.8"/>
<text x="406.50" y="110.5" font-size="7" text-anchor="middle" fill="#080808">0.0</text>
<line x1="458.52" y1="100.6" x2="458.52" y2="103.4" stroke="#555" stroke-width="0.8"/>
<text x="458.52" y="110.5" font-size="7" text-anchor="middle" fill="#080808">0.1</text>
<line x1="510.54" y1="100.6" x2="510.54" y2="103.4" stroke="#555" stroke-width="0.8"/>
<text x="510.54" y="110.5" font-size="7" text-anchor="middle" fill="#080808">0.2</text>
<text x="407" y="120.2" font-size="9.4" text-anchor="middle" textLength="67.5" lengthAdjust="spacingAndGlyphs" fill="#080808">Pathway Activity</text>
<text transform="translate(276.4 60.1) rotate(-90)" font-size="9.4" text-anchor="middle" fill="#080808">Density</text>
<text x="311.2" y="38.8" font-size="7.0" textLength="30.0" lengthAdjust="spacingAndGlyphs" fill="#080808">p value =</text>
<text x="347.0" y="38.8" font-size="7.0" textLength="24.8" lengthAdjust="spacingAndGlyphs" fill="#080808">0.00083</text>
<line x1="406.6" y1="24.1" x2="406.6" y2="100.6" stroke="#555" stroke-width="0.9" stroke-dasharray="3.4 2.4"/>
<polyline points="293.60,98.00 294.10,98.00 294.60,98.00 295.10,98.00 295.60,98.00 296.10,98.00 296.60,98.00 297.10,98.00 297.60,98.00 298.10,98.00 298.60,98.00 299.10,98.00 299.60,98.00 300.10,98.00 300.60,98.00 301.10,98.00 301.60,98.00 302.10,98.00 302.60,98.00 303.10,98.00 303.60,98.00 304.10,98.00 304.60,98.00 305.10,98.00 305.60,98.00 306.10,98.00 306.60,98.00 307.10,98.00 307.60,98.00 308.10,98.00 308.60,98.00 309.10,98.00 309.60,98.00 310.10,98.00 310.60,98.00 311.10,98.00 311.60,98.00 312.10,98.00 312.60,98.00 313.10,98.00 313.60,98.00 314.10,98.00 314.60,98.00 315.10,98.00 315.60,98.00 316.10,98.00 316.60,98.00 317.10,98.00 317.60,98.00 318.10,98.00 318.60,98.00 319.10,98.00 319.60,98.00 320.10,98.00 320.60,98.00 321.10,98.00 321.60,98.00 322.10,98.00 322.60,98.00 323.10,98.00 323.60,98.00 324.10,98.00 324.60,98.00 325.10,98.00 325.60,98.00 326.10,98.00 326.60,98.00 327.10,98.00 327.60,98.00 328.10,98.00 328.60,98.00 329.10,98.00 329.60,98.00 330.10,98.00 330.60,98.00 331.10,98.00 331.60,98.00 332.10,98.00 332.60,98.00 333.10,98.00 333.60,98.00 334.10,98.00 334.60,98.00 335.10,98.00 335.60,98.00 336.10,98.00 336.60,98.00 337.10,98.00 337.60,98.00 338.10,98.00 338.60,98.00 339.10,98.00 339.60,98.00 340.10,98.00 340.60,98.00 341.10,98.00 341.60,98.00 342.10,98.00 342.60,98.00 343.10,98.00 343.60,98.00 344.10,98.00 344.60,98.00 345.10,98.00 345.60,98.00 346.10,98.00 346.60,98.00 347.10,98.00 347.60,98.00 348.10,98.00 348.60,98.00 349.10,98.00 349.60,98.00 350.10,98.00 350.60,98.00 351.10,98.00 351.60,98.00 352.10,98.00 352.60,98.00 353.10,98.00 353.60,98.00 354.10,98.00 354.60,98.00 355.10,98.00 355.60,98.00 356.10,98.00 356.60,98.00 357.10,98.00 357.60,98.00 358.10,98.00 358.60,98.00 359.10,98.00 359.60,97.99 360.10,97.99 360.60,97.99 361.10,97.98 361.60,97.97 362.10,97.97 362.60,97.95 363.10,97.94 363.60,97.91 364.10,97.88 364.60,97.85 365.10,97.80 365.60,97.74 366.10,97.66 366.60,97.56 367.10,97.44 367.60,97.28 368.10,97.09 368.60,96.86 369.10,96.58 369.60,96.24 370.10,95.83 370.60,95.35 371.10,94.78 371.60,94.12 372.10,93.35 372.60,92.47 373.10,91.46 373.60,90.32 374.10,89.05 374.60,87.63 375.10,86.07 375.60,84.36 376.10,82.51 376.60,80.53 377.10,78.43 377.60,76.23 378.10,73.93 378.60,71.58 379.10,69.18 379.60,66.79 380.10,64.41 380.60,62.10 381.10,59.89 381.60,57.82 382.10,55.91 382.60,54.21 383.10,52.74 383.60,51.54 384.10,50.63 384.60,50.02 385.10,49.73 385.60,49.76 386.10,50.11 386.60,50.78 387.10,51.76 387.60,53.01 388.10,54.53 388.60,56.28 389.10,58.22 389.60,60.33 390.10,62.56 390.60,64.89 391.10,67.26 391.60,69.66 392.10,72.05 392.60,74.40 393.10,76.67 393.60,78.86 394.10,80.94 394.60,82.89 395.10,84.71 395.60,86.39 396.10,87.92 396.60,89.31 397.10,90.56 397.60,91.67 398.10,92.66 398.60,93.52 399.10,94.26 399.60,94.91 400.10,95.45 400.60,95.92 401.10,96.31 401.60,96.64 402.10,96.91 402.60,97.13 403.10,97.32 403.60,97.46 404.10,97.58 404.60,97.68 405.10,97.75 405.60,97.81 406.10,97.86 406.60,97.89 407.10,97.92 407.60,97.94 408.10,97.96 408.60,97.97 409.10,97.98 409.60,97.98 410.10,97.99 410.60,97.99 411.10,97.99 411.60,98.00 412.10,98.00 412.60,98.00 413.10,98.00 413.60,98.00 414.10,98.00 414.60,98.00 415.10,98.00 415.60,98.00 416.10,98.00 416.60,98.00 417.10,98.00 417.60,98.00 418.10,98.00 418.60,98.00 419.10,98.00 419.60,98.00 420.10,98.00 420.60,98.00 421.10,98.00 421.60,98.00 422.10,98.00 422.60,98.00 423.10,98.00 423.60,98.00 424.10,98.00 424.60,98.00 425.10,98.00 425.60,98.00 426.10,98.00 426.60,98.00 427.10,98.00 427.60,98.00 428.10,98.00 428.60,98.00 429.10,98.00 429.60,98.00 430.10,98.00 430.60,98.00 431.10,98.00 431.60,98.00 432.10,98.00 432.60,98.00 433.10,98.00 433.60,98.00 434.10,98.00 434.60,98.00 435.10,98.00 435.60,98.00 436.10,98.00 436.60,98.00 437.10,98.00 437.60,98.00 438.10,98.00 438.60,98.00 439.10,98.00 439.60,98.00 440.10,98.00 440.60,98.00 441.10,98.00 441.60,98.00 442.10,98.00 442.60,98.00 443.10,98.00 443.60,98.00 444.10,98.00 444.60,98.00 445.10,98.00 445.60,98.00 446.10,98.00 446.60,98.00 447.10,98.00 447.60,98.00 448.10,98.00 448.60,98.00 449.10,98.00 449.60,98.00 450.10,98.00 450.60,98.00 451.10,98.00 451.60,98.00 452.10,98.00 452.60,98.00 453.10,98.00 453.60,98.00 454.10,98.00 454.60,98.00 455.10,98.00 455.60,98.00 456.10,98.00 456.60,98.00 457.10,98.00 457.60,98.00 458.10,98.00 458.60,98.00 459.10,98.00 459.60,98.00 460.10,98.00 460.60,98.00 461.10,98.00 461.60,98.00 462.10,98.00 462.60,98.00 463.10,98.00 463.60,98.00 464.10,98.00 464.60,98.00 465.10,98.00 465.60,98.00 466.10,98.00 466.60,98.00 467.10,98.00 467.60,98.00 468.10,98.00 468.60,98.00 469.10,98.00 469.60,98.00 470.10,98.00 470.60,98.00 471.10,98.00 471.60,98.00 472.10,98.00 472.60,98.00 473.10,98.00 473.60,98.00 474.10,98.00 474.60,98.00 475.10,98.00 475.60,98.00 476.10,98.00 476.60,98.00 477.10,98.00 477.60,98.00 478.10,98.00 478.60,98.00 479.10,98.00 479.60,98.00 480.10,98.00 480.60,98.00 481.10,98.00 481.60,98.00 482.10,98.00 482.60,98.00 483.10,98.00 483.60,98.00 484.10,98.00 484.60,98.00 485.10,98.00 485.60,98.00 486.10,98.00 486.60,98.00 487.10,98.00 487.60,98.00 488.10,98.00 488.60,98.00 489.10,98.00 489.60,98.00 490.10,98.00 490.60,98.00 491.10,98.00 491.60,98.00 492.10,98.00 492.60,98.00 493.10,98.00 493.60,98.00 494.10,98.00 494.60,98.00 495.10,98.00 495.60,98.00 496.10,98.00 496.60,98.00 497.10,98.00 497.60,98.00 498.10,98.00 498.60,98.00 499.10,98.00 499.60,98.00 500.10,98.00 500.60,98.00 501.10,98.00 501.60,98.00 502.10,98.00 502.60,98.00 503.10,98.00 503.60,98.00 504.10,98.00 504.60,98.00 505.10,98.00 505.60,98.00 506.10,98.00 506.60,98.00 507.10,98.00 507.60,98.00 508.10,98.00 508.60,98.00 509.10,98.00 509.60,98.00 510.10,98.00 510.60,98.00 511.10,98.00 511.60,98.00 512.10,98.00 512.60,98.00 513.10,98.00 513.60,98.00 514.10,98.00 514.60,98.00 515.10,98.00 515.60,98.00 516.10,98.00 516.60,98.00 517.10,98.00 517.60,98.00 518.10,98.00 518.60,98.00" fill="none" stroke="#a8161f" stroke-width="2.3" stroke-linejoin="round"/>
<text x="406.4" y="147.3" font-size="9.8" text-anchor="middle" textLength="89.4" lengthAdjust="spacingAndGlyphs" fill="#080808">RB_P107_DN.V1_UP</text>
<line x1="294.6" y1="155.50" x2="519" y2="155.50" stroke="#6a6a6a" stroke-width="1.0"/>
<line x1="519" y1="155.50" x2="519" y2="236.10" stroke="#9a9a9a" stroke-width="1.3"/>
<line x1="294.6" y1="236.10" x2="519" y2="236.10" stroke="#9a9a9a" stroke-width="1.2"/>
<line x1="294.7" y1="155.00" x2="294.7" y2="236.60" stroke="#444" stroke-width="1"/>
<line x1="291.8" y1="233.50" x2="294.6" y2="233.50" stroke="#555" stroke-width="0.8"/>
<text transform="translate(289.2 234.50) rotate(-90)" font-size="7.3" text-anchor="middle" fill="#080808">0</text>
<line x1="291.8" y1="218.42" x2="294.6" y2="218.42" stroke="#555" stroke-width="0.8"/>
<text transform="translate(289.2 219.42) rotate(-90)" font-size="7.3" text-anchor="middle" fill="#080808">10</text>
<line x1="291.8" y1="203.34" x2="294.6" y2="203.34" stroke="#555" stroke-width="0.8"/>
<text transform="translate(289.2 204.34) rotate(-90)" font-size="7.3" text-anchor="middle" fill="#080808">20</text>
<line x1="291.8" y1="188.26" x2="294.6" y2="188.26" stroke="#555" stroke-width="0.8"/>
<text transform="translate(289.2 189.26) rotate(-90)" font-size="7.3" text-anchor="middle" fill="#080808">30</text>
<line x1="291.8" y1="173.18" x2="294.6" y2="173.18" stroke="#555" stroke-width="0.8"/>
<text transform="translate(289.2 174.18) rotate(-90)" font-size="7.3" text-anchor="middle" fill="#080808">40</text>
<line x1="291.8" y1="158.10" x2="294.6" y2="158.10" stroke="#555" stroke-width="0.8"/>
<text transform="translate(289.2 159.10) rotate(-90)" font-size="7.3" text-anchor="middle" fill="#080808">50</text>
<line x1="302.46" y1="236.1" x2="302.46" y2="238.9" stroke="#555" stroke-width="0.8"/>
<text x="301.66" y="246.0" font-size="7" text-anchor="middle" fill="#080808">−0.2</text>
<line x1="354.48" y1="236.1" x2="354.48" y2="238.9" stroke="#555" stroke-width="0.8"/>
<text x="353.68" y="246.0" font-size="7" text-anchor="middle" fill="#080808">−0.1</text>
<line x1="406.50" y1="236.1" x2="406.50" y2="238.9" stroke="#555" stroke-width="0.8"/>
<text x="406.50" y="246.0" font-size="7" text-anchor="middle" fill="#080808">0.0</text>
<line x1="458.52" y1="236.1" x2="458.52" y2="238.9" stroke="#555" stroke-width="0.8"/>
<text x="458.52" y="246.0" font-size="7" text-anchor="middle" fill="#080808">0.1</text>
<line x1="510.54" y1="236.1" x2="510.54" y2="238.9" stroke="#555" stroke-width="0.8"/>
<text x="510.54" y="246.0" font-size="7" text-anchor="middle" fill="#080808">0.2</text>
<text x="407" y="255.7" font-size="9.4" text-anchor="middle" textLength="67.5" lengthAdjust="spacingAndGlyphs" fill="#080808">Pathway Activity</text>
<text transform="translate(276.4 195.6) rotate(-90)" font-size="9.4" text-anchor="middle" fill="#080808">Density</text>
<text x="312.4" y="174.5" font-size="6.5" textLength="24.8" lengthAdjust="spacingAndGlyphs" fill="#080808">p value =</text>
<text x="345.5" y="174.5" font-size="6.5" textLength="20.2" lengthAdjust="spacingAndGlyphs" fill="#080808">0.0018</text>
<line x1="406.6" y1="159.6" x2="406.6" y2="236.1" stroke="#555" stroke-width="0.9" stroke-dasharray="3.4 2.4"/>
<polyline points="293.60,233.50 294.10,233.50 294.60,233.50 295.10,233.50 295.60,233.50 296.10,233.50 296.60,233.50 297.10,233.50 297.60,233.50 298.10,233.50 298.60,233.50 299.10,233.50 299.60,233.50 300.10,233.50 300.60,233.50 301.10,233.50 301.60,233.50 302.10,233.50 302.60,233.50 303.10,233.50 303.60,233.50 304.10,233.50 304.60,233.50 305.10,233.50 305.60,233.50 306.10,233.50 306.60,233.50 307.10,233.50 307.60,233.50 308.10,233.50 308.60,233.50 309.10,233.50 309.60,233.50 310.10,233.50 310.60,233.50 311.10,233.50 311.60,233.50 312.10,233.50 312.60,233.50 313.10,233.50 313.60,233.50 314.10,233.50 314.60,233.50 315.10,233.50 315.60,233.50 316.10,233.50 316.60,233.50 317.10,233.50 317.60,233.50 318.10,233.50 318.60,233.50 319.10,233.50 319.60,233.50 320.10,233.50 320.60,233.50 321.10,233.50 321.60,233.50 322.10,233.50 322.60,233.50 323.10,233.50 323.60,233.50 324.10,233.50 324.60,233.50 325.10,233.50 325.60,233.50 326.10,233.50 326.60,233.50 327.10,233.50 327.60,233.50 328.10,233.50 328.60,233.50 329.10,233.50 329.60,233.50 330.10,233.50 330.60,233.50 331.10,233.50 331.60,233.50 332.10,233.50 332.60,233.50 333.10,233.50 333.60,233.50 334.10,233.50 334.60,233.50 335.10,233.50 335.60,233.50 336.10,233.50 336.60,233.50 337.10,233.50 337.60,233.50 338.10,233.50 338.60,233.50 339.10,233.50 339.60,233.50 340.10,233.50 340.60,233.50 341.10,233.50 341.60,233.50 342.10,233.50 342.60,233.50 343.10,233.50 343.60,233.50 344.10,233.50 344.60,233.50 345.10,233.50 345.60,233.50 346.10,233.50 346.60,233.50 347.10,233.50 347.60,233.50 348.10,233.50 348.60,233.50 349.10,233.50 349.60,233.50 350.10,233.50 350.60,233.50 351.10,233.50 351.60,233.50 352.10,233.50 352.60,233.50 353.10,233.50 353.60,233.50 354.10,233.50 354.60,233.50 355.10,233.50 355.60,233.50 356.10,233.50 356.60,233.50 357.10,233.50 357.60,233.50 358.10,233.50 358.60,233.50 359.10,233.50 359.60,233.50 360.10,233.50 360.60,233.50 361.10,233.50 361.60,233.50 362.10,233.50 362.60,233.50 363.10,233.50 363.60,233.50 364.10,233.50 364.60,233.50 365.10,233.50 365.60,233.50 366.10,233.50 366.60,233.50 367.10,233.50 367.60,233.50 368.10,233.50 368.60,233.50 369.10,233.50 369.60,233.50 370.10,233.50 370.60,233.50 371.10,233.50 371.60,233.50 372.10,233.50 372.60,233.50 373.10,233.50 373.60,233.50 374.10,233.50 374.60,233.50 375.10,233.50 375.60,233.50 376.10,233.50 376.60,233.50 377.10,233.50 377.60,233.50 378.10,233.50 378.60,233.50 379.10,233.50 379.60,233.50 380.10,233.50 380.60,233.50 381.10,233.50 381.60,233.50 382.10,233.50 382.60,233.50 383.10,233.50 383.60,233.50 384.10,233.50 384.60,233.50 385.10,233.50 385.60,233.50 386.10,233.50 386.60,233.50 387.10,233.50 387.60,233.50 388.10,233.50 388.60,233.50 389.10,233.50 389.60,233.50 390.10,233.50 390.60,233.50 391.10,233.50 391.60,233.50 392.10,233.50 392.60,233.50 393.10,233.50 393.60,233.50 394.10,233.50 394.60,233.50 395.10,233.50 395.60,233.50 396.10,233.50 396.60,233.50 397.10,233.50 397.60,233.50 398.10,233.50 398.60,233.50 399.10,233.50 399.60,233.50 400.10,233.50 400.60,233.50 401.10,233.50 401.60,233.50 402.10,233.50 402.60,233.49 403.10,233.49 403.60,233.49 404.10,233.48 404.60,233.48 405.10,233.47 405.60,233.46 406.10,233.45 406.60,233.43 407.10,233.41 407.60,233.38 408.10,233.35 408.60,233.31 409.10,233.25 409.60,233.18 410.10,233.10 410.60,233.00 411.10,232.87 411.60,232.71 412.10,232.53 412.60,232.30 413.10,232.03 413.60,231.72 414.10,231.34 414.60,230.91 415.10,230.40 415.60,229.82 416.10,229.15 416.60,228.40 417.10,227.54 417.60,226.59 418.10,225.53 418.60,224.36 419.10,223.09 419.60,221.70 420.10,220.21 420.60,218.62 421.10,216.94 421.60,215.18 422.10,213.35 422.60,211.47 423.10,209.55 423.60,207.62 424.10,205.70 424.60,203.81 425.10,201.98 425.60,200.24 426.10,198.60 426.60,197.11 427.10,195.77 427.60,194.61 428.10,193.66 428.60,192.92 429.10,192.41 429.60,192.14 430.10,192.12 430.60,192.33 431.10,192.78 431.60,193.45 432.10,194.34 432.60,195.42 433.10,196.69 433.60,198.12 434.10,199.69 434.60,201.37 435.10,203.15 435.60,204.99 436.10,206.87 436.60,208.77 437.10,210.67 437.60,212.54 438.10,214.37 438.60,216.13 439.10,217.83 439.60,219.44 440.10,220.96 440.60,222.38 441.10,223.69 441.60,224.90 442.10,226.00 442.60,227.00 443.10,227.90 443.60,228.70 444.10,229.41 444.60,230.03 445.10,230.58 445.60,231.06 446.10,231.46 446.60,231.81 447.10,232.11 447.60,232.36 448.10,232.58 448.60,232.75 449.10,232.90 449.60,233.02 450.10,233.12 450.60,233.20 451.10,233.26 451.60,233.31 452.10,233.36 452.60,233.39 453.10,233.41 453.60,233.43 454.10,233.45 454.60,233.46 455.10,233.47 455.60,233.48 456.10,233.48 456.60,233.49 457.10,233.49 457.60,233.49 458.10,233.50 458.60,233.50 459.10,233.50 459.60,233.50 460.10,233.50 460.60,233.50 461.10,233.50 461.60,233.50 462.10,233.50 462.60,233.50 463.10,233.50 463.60,233.50 464.10,233.50 464.60,233.50 465.10,233.50 465.60,233.50 466.10,233.50 466.60,233.50 467.10,233.50 467.60,233.50 468.10,233.50 468.60,233.50 469.10,233.50 469.60,233.50 470.10,233.50 470.60,233.50 471.10,233.50 471.60,233.50 472.10,233.50 472.60,233.50 473.10,233.50 473.60,233.50 474.10,233.50 474.60,233.50 475.10,233.50 475.60,233.50 476.10,233.50 476.60,233.50 477.10,233.50 477.60,233.50 478.10,233.50 478.60,233.50 479.10,233.50 479.60,233.50 480.10,233.50 480.60,233.50 481.10,233.50 481.60,233.50 482.10,233.50 482.60,233.50 483.10,233.50 483.60,233.50 484.10,233.50 484.60,233.50 485.10,233.50 485.60,233.50 486.10,233.50 486.60,233.50 487.10,233.50 487.60,233.50 488.10,233.50 488.60,233.50 489.10,233.50 489.60,233.50 490.10,233.50 490.60,233.50 491.10,233.50 491.60,233.50 492.10,233.50 492.60,233.50 493.10,233.50 493.60,233.50 494.10,233.50 494.60,233.50 495.10,233.50 495.60,233.50 496.10,233.50 496.60,233.50 497.10,233.50 497.60,233.50 498.10,233.50 498.60,233.50 499.10,233.50 499.60,233.50 500.10,233.50 500.60,233.50 501.10,233.50 501.60,233.50 502.10,233.50 502.60,233.50 503.10,233.50 503.60,233.50 504.10,233.50 504.60,233.50 505.10,233.50 505.60,233.50 506.10,233.50 506.60,233.50 507.10,233.50 507.60,233.50 508.10,233.50 508.60,233.50 509.10,233.50 509.60,233.50 510.10,233.50 510.60,233.50 511.10,233.50 511.60,233.50 512.10,233.50 512.60,233.50 513.10,233.50 513.60,233.50 514.10,233.50 514.60,233.50 515.10,233.50 515.60,233.50 516.10,233.50 516.60,233.50 517.10,233.50 517.60,233.50 518.10,233.50 518.60,233.50" fill="none" stroke="#a8161f" stroke-width="2.3" stroke-linejoin="round"/>
<text x="406.8" y="282.8" font-size="9.8" text-anchor="middle" textLength="88.6" lengthAdjust="spacingAndGlyphs" fill="#080808">Rosenwald_MCL_Up</text>
<line x1="294.6" y1="291.00" x2="519" y2="291.00" stroke="#9a9a9a" stroke-width="1.4"/>
<line x1="519" y1="291.00" x2="519" y2="371.60" stroke="#9a9a9a" stroke-width="1.3"/>
<line x1="294.6" y1="371.60" x2="519" y2="371.60" stroke="#9a9a9a" stroke-width="1.2"/>
<line x1="294.7" y1="290.50" x2="294.7" y2="372.10" stroke="#444" stroke-width="1"/>
<line x1="291.8" y1="369.00" x2="294.6" y2="369.00" stroke="#555" stroke-width="0.8"/>
<text transform="translate(289.2 370.00) rotate(-90)" font-size="7.3" text-anchor="middle" fill="#080808">0</text>
<line x1="291.8" y1="353.92" x2="294.6" y2="353.92" stroke="#555" stroke-width="0.8"/>
<text transform="translate(289.2 354.92) rotate(-90)" font-size="7.3" text-anchor="middle" fill="#080808">10</text>
<line x1="291.8" y1="338.84" x2="294.6" y2="338.84" stroke="#555" stroke-width="0.8"/>
<text transform="translate(289.2 339.84) rotate(-90)" font-size="7.3" text-anchor="middle" fill="#080808">20</text>
<line x1="291.8" y1="323.76" x2="294.6" y2="323.76" stroke="#555" stroke-width="0.8"/>
<text transform="translate(289.2 324.76) rotate(-90)" font-size="7.3" text-anchor="middle" fill="#080808">30</text>
<line x1="291.8" y1="308.68" x2="294.6" y2="308.68" stroke="#555" stroke-width="0.8"/>
<text transform="translate(289.2 309.68) rotate(-90)" font-size="7.3" text-anchor="middle" fill="#080808">40</text>
<line x1="291.8" y1="293.60" x2="294.6" y2="293.60" stroke="#555" stroke-width="0.8"/>
<text transform="translate(289.2 294.60) rotate(-90)" font-size="7.3" text-anchor="middle" fill="#080808">50</text>
<line x1="302.46" y1="371.6" x2="302.46" y2="374.4" stroke="#555" stroke-width="0.8"/>
<text x="301.66" y="381.5" font-size="7" text-anchor="middle" fill="#080808">−0.2</text>
<line x1="354.48" y1="371.6" x2="354.48" y2="374.4" stroke="#555" stroke-width="0.8"/>
<text x="353.68" y="381.5" font-size="7" text-anchor="middle" fill="#080808">−0.1</text>
<line x1="406.50" y1="371.6" x2="406.50" y2="374.4" stroke="#555" stroke-width="0.8"/>
<text x="406.50" y="381.5" font-size="7" text-anchor="middle" fill="#080808">0.0</text>
<line x1="458.52" y1="371.6" x2="458.52" y2="374.4" stroke="#555" stroke-width="0.8"/>
<text x="458.52" y="381.5" font-size="7" text-anchor="middle" fill="#080808">0.1</text>
<line x1="510.54" y1="371.6" x2="510.54" y2="374.4" stroke="#555" stroke-width="0.8"/>
<text x="510.54" y="381.5" font-size="7" text-anchor="middle" fill="#080808">0.2</text>
<text x="407" y="391.2" font-size="9.4" text-anchor="middle" textLength="67.5" lengthAdjust="spacingAndGlyphs" fill="#080808">Pathway Activity</text>
<text transform="translate(276.4 331.1) rotate(-90)" font-size="9.4" text-anchor="middle" fill="#080808">Density</text>
<text x="313.0" y="309.5" font-size="6.5" textLength="24.3" lengthAdjust="spacingAndGlyphs" fill="#080808">p value =</text>
<text x="346.3" y="309.5" font-size="6.5" textLength="16.3" lengthAdjust="spacingAndGlyphs" fill="#080808">0.037</text>
<line x1="406.6" y1="295.1" x2="406.6" y2="371.6" stroke="#555" stroke-width="0.9" stroke-dasharray="3.4 2.4"/>
<polyline points="293.60,369.00 294.10,369.00 294.60,369.00 295.10,369.00 295.60,369.00 296.10,369.00 296.60,369.00 297.10,369.00 297.60,369.00 298.10,369.00 298.60,369.00 299.10,369.00 299.60,369.00 300.10,369.00 300.60,369.00 301.10,369.00 301.60,369.00 302.10,369.00 302.60,369.00 303.10,369.00 303.60,369.00 304.10,369.00 304.60,369.00 305.10,369.00 305.60,369.00 306.10,369.00 306.60,369.00 307.10,369.00 307.60,369.00 308.10,369.00 308.60,369.00 309.10,369.00 309.60,369.00 310.10,369.00 310.60,369.00 311.10,369.00 311.60,369.00 312.10,369.00 312.60,369.00 313.10,369.00 313.60,369.00 314.10,369.00 314.60,369.00 315.10,369.00 315.60,369.00 316.10,369.00 316.60,369.00 317.10,369.00 317.60,369.00 318.10,369.00 318.60,369.00 319.10,369.00 319.60,369.00 320.10,369.00 320.60,369.00 321.10,369.00 321.60,369.00 322.10,369.00 322.60,369.00 323.10,369.00 323.60,369.00 324.10,369.00 324.60,369.00 325.10,369.00 325.60,369.00 326.10,369.00 326.60,369.00 327.10,369.00 327.60,369.00 328.10,369.00 328.60,369.00 329.10,369.00 329.60,369.00 330.10,369.00 330.60,369.00 331.10,369.00 331.60,369.00 332.10,369.00 332.60,369.00 333.10,369.00 333.60,369.00 334.10,369.00 334.60,369.00 335.10,369.00 335.60,369.00 336.10,369.00 336.60,369.00 337.10,369.00 337.60,369.00 338.10,369.00 338.60,369.00 339.10,369.00 339.60,369.00 340.10,369.00 340.60,369.00 341.10,369.00 341.60,369.00 342.10,369.00 342.60,369.00 343.10,369.00 343.60,369.00 344.10,369.00 344.60,369.00 345.10,369.00 345.60,369.00 346.10,369.00 346.60,369.00 347.10,369.00 347.60,369.00 348.10,369.00 348.60,369.00 349.10,369.00 349.60,369.00 350.10,369.00 350.60,369.00 351.10,369.00 351.60,369.00 352.10,369.00 352.60,369.00 353.10,369.00 353.60,369.00 354.10,369.00 354.60,369.00 355.10,369.00 355.60,369.00 356.10,369.00 356.60,369.00 357.10,369.00 357.60,369.00 358.10,369.00 358.60,369.00 359.10,369.00 359.60,369.00 360.10,369.00 360.60,369.00 361.10,369.00 361.60,369.00 362.10,369.00 362.60,369.00 363.10,369.00 363.60,369.00 364.10,369.00 364.60,369.00 365.10,369.00 365.60,369.00 366.10,369.00 366.60,369.00 367.10,369.00 367.60,369.00 368.10,369.00 368.60,368.99 369.10,368.99 369.60,368.99 370.10,368.99 370.60,368.99 371.10,368.99 371.60,368.99 372.10,368.99 372.60,368.99 373.10,368.99 373.60,368.98 374.10,368.98 374.60,368.98 375.10,368.98 375.60,368.98 376.10,368.97 376.60,368.97 377.10,368.97 377.60,368.96 378.10,368.96 378.60,368.96 379.10,368.95 379.60,368.95 380.10,368.94 380.60,368.94 381.10,368.93 381.60,368.92 382.10,368.92 382.60,368.91 383.10,368.90 383.60,368.89 384.10,368.88 384.60,368.87 385.10,368.85 385.60,368.84 386.10,368.83 386.60,368.81 387.10,368.79 387.60,368.77 388.10,368.75 388.60,368.73 389.10,368.71 389.60,368.68 390.10,368.66 390.60,368.63 391.10,368.60 391.60,368.57 392.10,368.53 392.60,368.49 393.10,368.45 393.60,368.41 394.10,368.36 394.60,368.32 395.10,368.26 395.60,368.21 396.10,368.15 396.60,368.09 397.10,368.02 397.60,367.95 398.10,367.88 398.60,367.80 399.10,367.72 399.60,367.63 400.10,367.54 400.60,367.44 401.10,367.34 401.60,367.24 402.10,367.12 402.60,367.01 403.10,366.88 403.60,366.76 404.10,366.62 404.60,366.48 405.10,366.33 405.60,366.18 406.10,366.02 406.60,365.86 407.10,365.69 407.60,365.51 408.10,365.32 408.60,365.13 409.10,364.93 409.60,364.73 410.10,364.51 410.60,364.29 411.10,364.07 411.60,363.84 412.10,363.60 412.60,363.35 413.10,363.10 413.60,362.85 414.10,362.58 414.60,362.31 415.10,362.04 415.60,361.76 416.10,361.47 416.60,361.18 417.10,360.89 417.60,360.59 418.10,360.29 418.60,359.98 419.10,359.67 419.60,359.36 420.10,359.05 420.60,358.73 421.10,358.41 421.60,358.09 422.10,357.78 422.60,357.46 423.10,357.14 423.60,356.82 424.10,356.51 424.60,356.19 425.10,355.88 425.60,355.58 426.10,355.28 426.60,354.98 427.10,354.68 427.60,354.40 428.10,354.12 428.60,353.84 429.10,353.58 429.60,353.32 430.10,353.07 430.60,352.83 431.10,352.60 431.60,352.38 432.10,352.17 432.60,351.98 433.10,351.79 433.60,351.62 434.10,351.46 434.60,351.31 435.10,351.17 435.60,351.05 436.10,350.94 436.60,350.85 437.10,350.77 437.60,350.71 438.10,350.66 438.60,350.62 439.10,350.60 439.60,350.60 440.10,350.61 440.60,350.64 441.10,350.69 441.60,350.75 442.10,350.83 442.60,350.92 443.10,351.03 443.60,351.16 444.10,351.30 444.60,351.46 445.10,351.63 445.60,351.82 446.10,352.01 446.60,352.23 447.10,352.45 447.60,352.69 448.10,352.94 448.60,353.20 449.10,353.47 449.60,353.74 450.10,354.03 450.60,354.33 451.10,354.63 451.60,354.94 452.10,355.25 452.60,355.57 453.10,355.90 453.60,356.23 454.10,356.56 454.60,356.90 455.10,357.23 455.60,357.57 456.10,357.91 456.60,358.25 457.10,358.58 457.60,358.92 458.10,359.25 458.60,359.58 459.10,359.91 459.60,360.24 460.10,360.56 460.60,360.88 461.10,361.19 461.60,361.50 462.10,361.80 462.60,362.09 463.10,362.38 463.60,362.67 464.10,362.94 464.60,363.21 465.10,363.48 465.60,363.73 466.10,363.98 466.60,364.22 467.10,364.46 467.60,364.68 468.10,364.90 468.60,365.11 469.10,365.32 469.60,365.52 470.10,365.70 470.60,365.89 471.10,366.06 471.60,366.23 472.10,366.39 472.60,366.54 473.10,366.69 473.60,366.83 474.10,366.96 474.60,367.09 475.10,367.21 475.60,367.32 476.10,367.43 476.60,367.53 477.10,367.63 477.60,367.72 478.10,367.81 478.60,367.89 479.10,367.97 479.60,368.04 480.10,368.11 480.60,368.17 481.10,368.23 481.60,368.29 482.10,368.34 482.60,368.39 483.10,368.44 483.60,368.48 484.10,368.52 484.60,368.56 485.10,368.60 485.60,368.63 486.10,368.66 486.60,368.69 487.10,368.71 487.60,368.74 488.10,368.76 488.60,368.78 489.10,368.80 489.60,368.82 490.10,368.83 490.60,368.85 491.10,368.86 491.60,368.87 492.10,368.89 492.60,368.90 493.10,368.91 493.60,368.91 494.10,368.92 494.60,368.93 495.10,368.94 495.60,368.94 496.10,368.95 496.60,368.95 497.10,368.96 497.60,368.96 498.10,368.97 498.60,368.97 499.10,368.97 499.60,368.98 500.10,368.98 500.60,368.98 501.10,368.98 501.60,368.98 502.10,368.99 502.60,368.99 503.10,368.99 503.60,368.99 504.10,368.99 504.60,368.99 505.10,368.99 505.60,368.99 506.10,368.99 506.60,369.00 507.10,369.00 507.60,369.00 508.10,369.00 508.60,369.00 509.10,369.00 509.60,369.00 510.10,369.00 510.60,369.00 511.10,369.00 511.60,369.00 512.10,369.00 512.60,369.00 513.10,369.00 513.60,369.00 514.10,369.00 514.60,369.00 515.10,369.00 515.60,369.00 516.10,369.00 516.60,369.00 517.10,369.00 517.60,369.00 518.10,369.00 518.60,369.00" fill="none" stroke="#a8161f" stroke-width="2.3" stroke-linejoin="round"/>
</svg>
</body></html>
